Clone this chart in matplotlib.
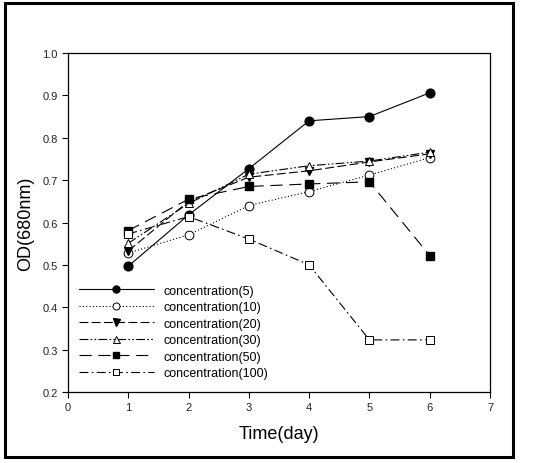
import matplotlib.pyplot as plt
from matplotlib.patches import Rectangle

plt.rcParams['font.family'] = ['Liberation Sans', 'DejaVu Sans']

days = [1, 2, 3, 4, 5, 6]
conc5 = [0.497, 0.618, 0.727, 0.840, 0.850, 0.906]
conc10 = [0.528, 0.571, 0.640, 0.673, 0.712, 0.753]
conc20 = [0.533, 0.650, 0.707, 0.722, 0.743, 0.762]
conc30 = [0.551, 0.645, 0.714, 0.734, 0.745, 0.766]
conc50 = [0.581, 0.655, 0.685, 0.691, 0.696, 0.522]
conc100 = [0.573, 0.614, 0.561, 0.500, 0.323, 0.323]

labels = ["concentration(5)", "concentration(10)", "concentration(20)",
          "concentration(30)", "concentration(50)", "concentration(100)"]


def main():
    fig = plt.figure(figsize=(5.33, 4.64), dpi=100)
    ax = fig.add_axes([0.1276, 0.153, 0.7917, 0.7306])

    lw = 0.8
    ms = 6.3
    ax.plot(days, conc5, color='black', lw=lw, ls='-', marker='o', ms=ms,
            mfc='black', mec='black', label=labels[0])
    ax.plot(days, conc10, color='black', lw=lw, ls=(0, (1, 2)), marker='o', ms=ms,
            mfc='white', mec='black', mew=0.7, label=labels[1])
    ax.plot(days, conc20, color='black', lw=lw, ls=(0, (8, 3)), marker='v', ms=ms,
            mfc='black', mec='black', label=labels[2])
    ax.plot(days, conc30, color='black', lw=lw, ls=(0, (8, 2, 1.5, 2, 1.5, 2)),
            marker='^', ms=ms, mfc='white', mec='black', mew=0.7, label=labels[3])
    ax.plot(days, conc50, color='black', lw=lw, ls=(0, (11, 6)), marker='s', ms=ms - 0.5,
            mfc='black', mec='black', label=labels[4])
    ax.plot(days, conc100, color='black', lw=lw, ls=(0, (8, 3, 1.5, 3)), marker='s',
            ms=ms - 0.5, mfc='white', mec='black', mew=0.7, label=labels[5])

    ax.set_xlim(0, 7)
    ax.set_ylim(0.2, 1.0)
    ax.set_xticks(range(0, 8))
    ax.set_yticks([0.2, 0.3, 0.4, 0.5, 0.6, 0.7, 0.8, 0.9, 1.0])
    ax.set_yticklabels([f"{v:.1f}" for v in ax.get_yticks()])
    ax.tick_params(direction='out', length=4, width=0.8, labelsize=8,
                   labelcolor='#222222', top=False, right=False)
    for s in ax.spines.values():
        s.set_linewidth(0.9)

    ax.set_xlabel("Time(day)", fontsize=13, labelpad=9)
    ax.set_ylabel("OD(680nm)", fontsize=13, labelpad=6)

    ax.legend(loc='lower left', bbox_to_anchor=(-0.005, 0.0), frameon=False,
              fontsize=9, handlelength=6.0, labelspacing=0.36, handletextpad=0.75,
              borderaxespad=0.64, markerscale=0.8)

    # outer frame around the whole picture
    fig.patches.append(Rectangle((5 / 533, 1 - 458 / 464), 508 / 533, 454 / 464,
                                 transform=fig.transFigure, fill=False,
                                 edgecolor='black', lw=2.2))

    fig.savefig("out.png", dpi=100)


if __name__ == "__main__":
    main()
